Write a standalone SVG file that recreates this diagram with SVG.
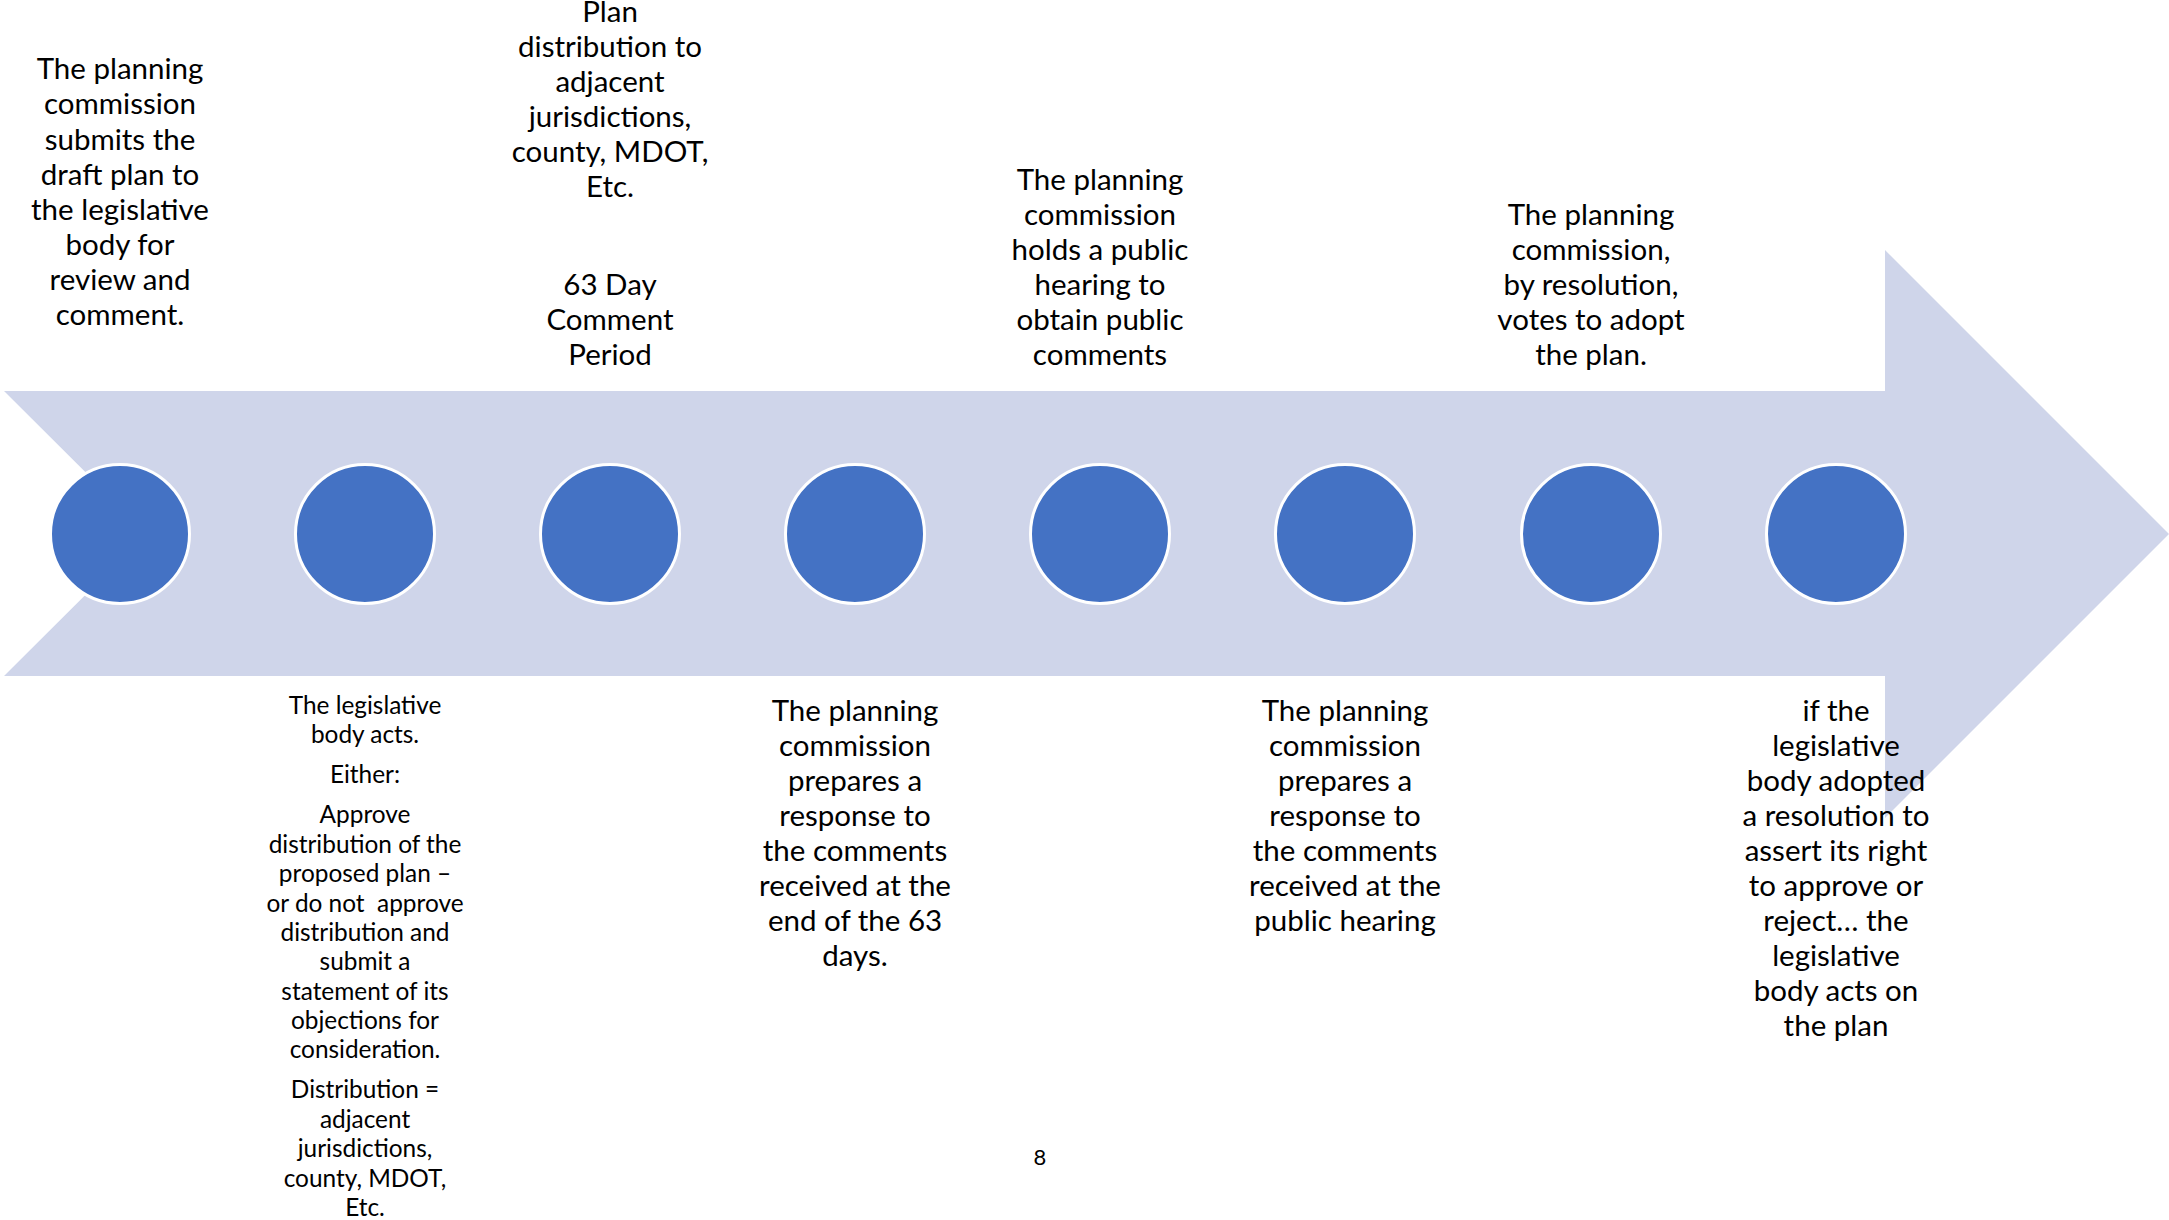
<svg xmlns="http://www.w3.org/2000/svg" width="2169" height="1220" viewBox="0 0 2169 1220">
  <style>
    .arrow { fill: #CFD5EA; }
    .dot { fill: #4472C4; stroke: #FFFFFF; stroke-width: 3; }
    .lbl { font-family: Lato, "Open Sans", "Liberation Sans", sans-serif; font-size: 29.5px; fill: #000000; text-anchor: middle; }
    .sm { font-size: 24.4px; }
    .pg { font-family: Lato, "Liberation Sans", sans-serif; font-size: 22px; fill: #000000; text-anchor: middle; }
  </style>

  <rect width="2169" height="1220" fill="#FFFFFF"/>

  <!-- chevron-tailed timeline arrow -->
  <g id="connectors">
    <polygon class="arrow" points="4,391 1885,391 1885,250 2169,534 1885,818 1885,676 4,676 147,533.5"/>
  </g>

  <g id="step1">
    <circle class="dot" cx="120" cy="534" r="69.5"/>
    <text class="lbl"><tspan x="120" y="79.3">The planning</tspan><tspan x="120" y="114.4">commission</tspan><tspan x="120" y="149.5">submits the</tspan><tspan x="120" y="184.6">draft plan to</tspan><tspan x="120" y="219.7">the legislative</tspan><tspan x="120" y="254.8">body for</tspan><tspan x="120" y="289.9">review and</tspan><tspan x="120" y="325">comment.</tspan></text>
  </g>

  <g id="step2">
    <circle class="dot" cx="365" cy="534" r="69.5"/>
    <text class="lbl sm"><tspan x="365" y="713.5">The legislative</tspan><tspan x="365" y="742.7">body acts.</tspan><tspan x="365" y="783.2">Either:</tspan><tspan x="365" y="823.3">Approve</tspan><tspan x="365" y="852.7">distribution of the</tspan><tspan x="365" y="882.1">proposed plan –</tspan><tspan x="365" y="911.5">or do not&#160; approve</tspan><tspan x="365" y="940.9">distribution and</tspan><tspan x="365" y="970.3">submit a</tspan><tspan x="365" y="999.7">statement of its</tspan><tspan x="365" y="1029.1">objections for</tspan><tspan x="365" y="1058.3">consideration.</tspan><tspan x="365" y="1098.3">Distribution =</tspan><tspan x="365" y="1127.7">adjacent</tspan><tspan x="365" y="1157.1">jurisdictions,</tspan><tspan x="365" y="1186.5">county, MDOT,</tspan><tspan x="365" y="1215.9">Etc.</tspan></text>
  </g>

  <g id="step3">
    <circle class="dot" cx="610" cy="534" r="69.5"/>
    <text class="lbl"><tspan x="610" y="21.7">Plan</tspan><tspan x="610" y="56.7">distribution to</tspan><tspan x="610" y="91.7">adjacent</tspan><tspan x="610" y="126.7">jurisdictions,</tspan><tspan x="610" y="161.7">county, MDOT,</tspan><tspan x="610" y="196.7">Etc.</tspan><tspan x="610" y="294.5">63 Day</tspan><tspan x="610" y="329.5">Comment</tspan><tspan x="610" y="364.5">Period</tspan></text>
  </g>

  <g id="step4">
    <circle class="dot" cx="855" cy="534" r="69.5"/>
    <text class="lbl"><tspan x="855" y="720.6">The planning</tspan><tspan x="855" y="755.6">commission</tspan><tspan x="855" y="790.6">prepares a</tspan><tspan x="855" y="825.6">response to</tspan><tspan x="855" y="860.6">the comments</tspan><tspan x="855" y="895.6">received at the</tspan><tspan x="855" y="930.6">end of the 63</tspan><tspan x="855" y="965.6">days.</tspan></text>
  </g>

  <g id="step5">
    <circle class="dot" cx="1100" cy="534" r="69.5"/>
    <text class="lbl"><tspan x="1100" y="189.5">The planning</tspan><tspan x="1100" y="224.5">commission</tspan><tspan x="1100" y="259.5">holds a public</tspan><tspan x="1100" y="294.5">hearing to</tspan><tspan x="1100" y="329.5">obtain public</tspan><tspan x="1100" y="364.5">comments</tspan></text>
  </g>

  <g id="step6">
    <circle class="dot" cx="1345" cy="534" r="69.5"/>
    <text class="lbl"><tspan x="1345" y="720.6">The planning</tspan><tspan x="1345" y="755.6">commission</tspan><tspan x="1345" y="790.6">prepares a</tspan><tspan x="1345" y="825.6">response to</tspan><tspan x="1345" y="860.6">the comments</tspan><tspan x="1345" y="895.6">received at the</tspan><tspan x="1345" y="930.6">public hearing</tspan></text>
  </g>

  <g id="step7">
    <circle class="dot" cx="1591" cy="534" r="69.5"/>
    <text class="lbl"><tspan x="1591" y="224.5">The planning</tspan><tspan x="1591" y="259.5">commission,</tspan><tspan x="1591" y="294.5">by resolution,</tspan><tspan x="1591" y="329.5">votes to adopt</tspan><tspan x="1591" y="364.5">the plan.</tspan></text>
  </g>

  <g id="step8">
    <circle class="dot" cx="1836" cy="534" r="69.5"/>
    <text class="lbl"><tspan x="1836" y="720.6">if the</tspan><tspan x="1836" y="755.6">legislative</tspan><tspan x="1836" y="790.6">body adopted</tspan><tspan x="1836" y="825.6">a resolution to</tspan><tspan x="1836" y="860.6">assert its right</tspan><tspan x="1836" y="895.6">to approve or</tspan><tspan x="1836" y="930.6">reject… the</tspan><tspan x="1836" y="965.6">legislative</tspan><tspan x="1836" y="1000.6">body acts on</tspan><tspan x="1836" y="1035.6">the plan</tspan></text>
  </g>

  <text id="page-number" class="pg" x="1040" y="1165">8</text>
</svg>
